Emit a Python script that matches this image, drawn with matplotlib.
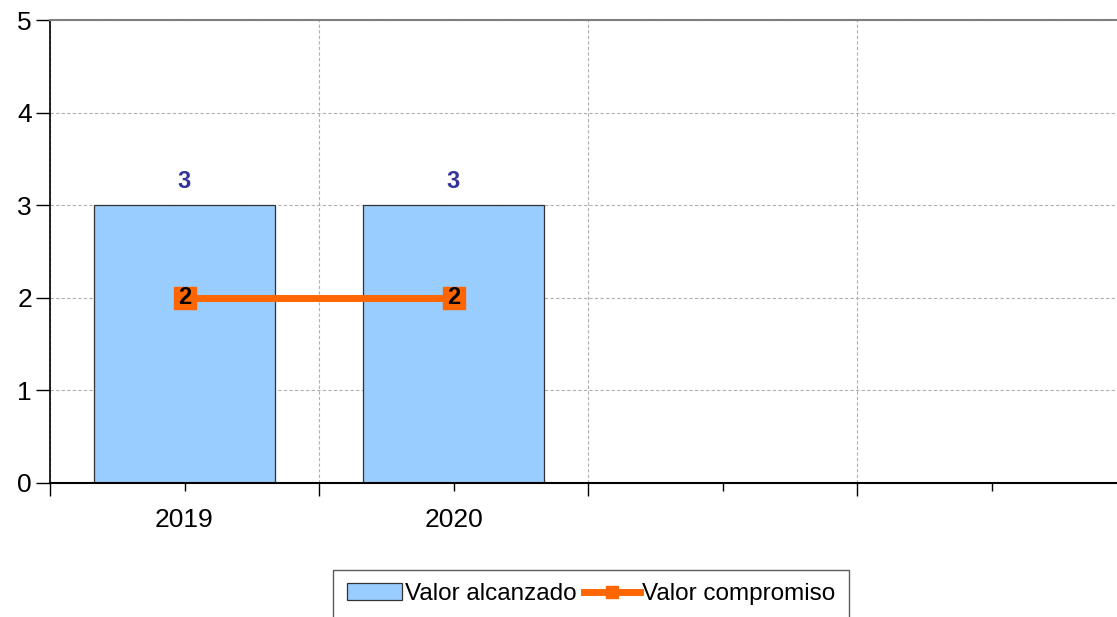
import matplotlib
matplotlib.use('Agg')
import matplotlib.pyplot as plt
from matplotlib.patches import Patch
from matplotlib.lines import Line2D
import numpy as np

plt.rcParams['font.family'] = ['Liberation Sans', 'DejaVu Sans']

categories = ['2019', '2020', '', '']
alcanzado = [3, 3]
compromiso = [2, 2]

bar_color = '#99CCFF'
line_color = '#FF6600'
label_color = '#333399'

fig = plt.figure(figsize=(11.17, 6.17), dpi=100)
ax = fig.add_axes([50 / 1117, 134 / 617, 1076 / 1117, 463 / 617])

x = np.arange(len(categories))
xb = x[:len(alcanzado)]
ax.bar(xb, alcanzado, width=0.673, color=bar_color, edgecolor='#333333',
       linewidth=0.9, zorder=2)
for xi, v in zip(xb, alcanzado):
    ax.text(xi, v + 0.13, str(v), ha='center', va='bottom', color=label_color,
            fontsize=17, fontweight='bold', zorder=5)

xl = x[:len(compromiso)]
ax.plot(xl, compromiso, color=line_color, linewidth=5, marker='s',
        markersize=16, markerfacecolor=line_color, markeredgecolor=line_color,
        zorder=3)
for xi, v in zip(xl, compromiso):
    ax.text(xi, v, str(v), ha='center', va='center', color='black',
            fontsize=17, fontweight='bold', zorder=6)

ax.set_xlim(-0.5, len(categories) - 0.5)
ax.set_ylim(0, 5)
ax.set_yticks(range(0, 6))
ax.tick_params(axis='y', labelsize=19, length=10, width=1, direction='out', pad=3)

bounds = np.arange(-0.5, len(categories), 1.0)
ax.set_xticks(bounds)
ax.set_xticklabels([''] * len(bounds))
ax.set_xticks(x, minor=True)
ax.set_xticklabels(categories, minor=True)
ax.tick_params(axis='x', which='major', length=9, width=1, direction='out')
ax.tick_params(axis='x', which='minor', length=6, width=1, direction='out',
               labelsize=19, pad=12)

ax.grid(axis='y', color='#b0b0b0', linestyle=(0, (3, 2)), linewidth=0.8, zorder=0)
ax.grid(axis='x', which='major', color='#b0b0b0', linestyle=(0, (3, 2)),
        linewidth=0.8, zorder=0)

ax.spines['left'].set_color('black')
ax.spines['left'].set_linewidth(1.2)
ax.spines['bottom'].set_color('black')
ax.spines['bottom'].set_linewidth(1.5)
ax.spines['top'].set_color('#808080')
ax.spines['top'].set_linewidth(1.5)
ax.spines['right'].set_visible(False)

handles = [
    Patch(facecolor=bar_color, edgecolor='#333333', linewidth=0.9,
          label='Valor alcanzado'),
    Line2D([0], [0], color=line_color, linewidth=5, marker='s', markersize=9,
           label='Valor compromiso'),
]
leg = fig.legend(handles=handles, loc='upper center', ncol=2,
                 bbox_to_anchor=(591 / 1117, 1 - 570 / 617), fontsize=17.5,
                 frameon=True, fancybox=False, edgecolor='#333333',
                 handlelength=2.3, handletextpad=0.1, columnspacing=0.3,
                 borderpad=0.55, borderaxespad=0)
leg.get_frame().set_linewidth(1.0)

fig.savefig('out.png', dpi=100)
